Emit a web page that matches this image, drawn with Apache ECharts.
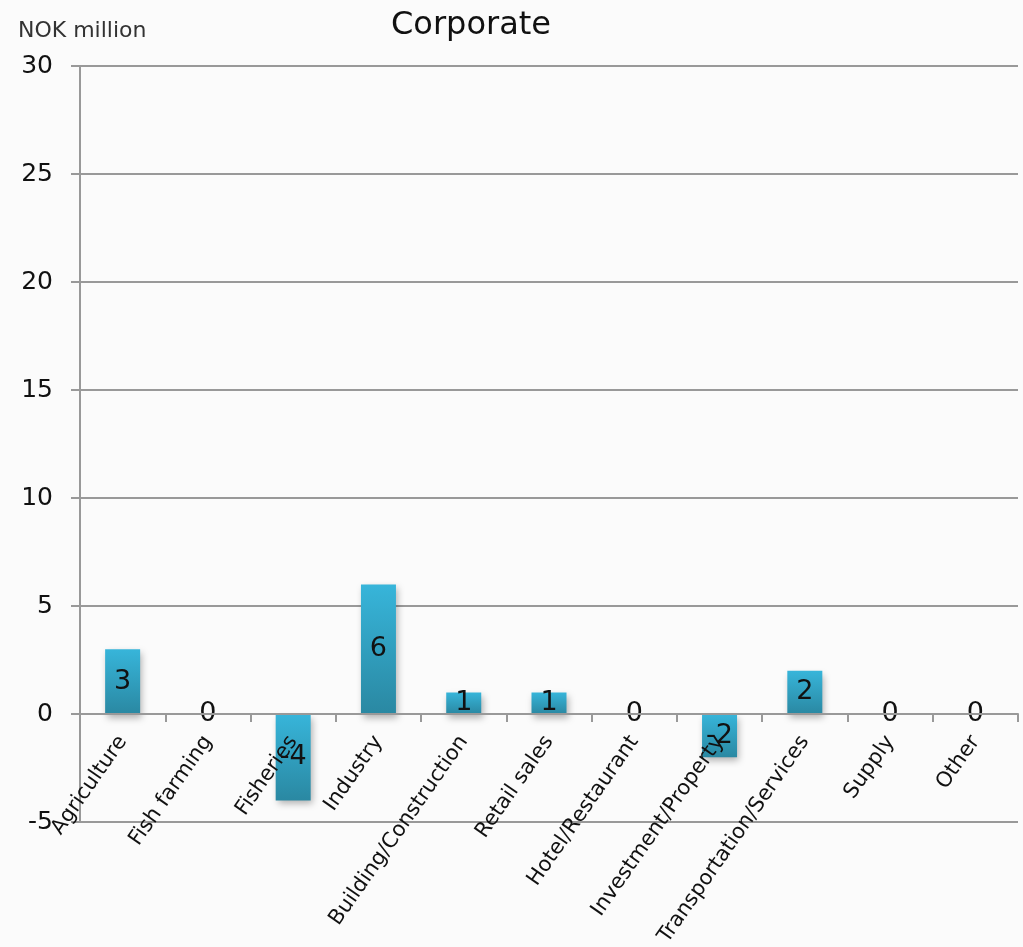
<!DOCTYPE html>
<html>
<head>
<meta charset="utf-8">
<script src="https://cdn.jsdelivr.net/npm/echarts@6/dist/echarts.min.js"></script>
<style>
  html, body { margin: 0; padding: 0; background: #fbfbfb; }
  #chart { width: 1023px; height: 947px; }
</style>
</head>
<body>
<div id="chart"></div>
<script>
// Sector breakdown, NOK million
const categories = ['Agriculture', 'Fish farming', 'Fisheries', 'Industry', 'Building/Construction',
  'Retail sales', 'Hotel/Restaurant', 'Investment/Property', 'Transportation/Services', 'Supply', 'Other'];
const values = [3, 0, -4, 6, 1, 1, 0, -2, 2, 0, 0];
const yTicks = { min: -5, max: 30, step: 5 };

const FONT = '"DejaVu Sans", Verdana, sans-serif';
const W = 1023, H = 947;
const grid = { left: 80, right: 5, top: 66, bottom: 125 };
const plotH = H - grid.top - grid.bottom;
// Lift the category axis (line, ticks and labels) up to the value-axis zero.
const zeroLift = (0 - yTicks.min) / (yTicks.max - yTicks.min) * plotH;

const chart = echarts.init(document.getElementById('chart'), null, { renderer: 'canvas', width: W, height: H });

const barFill = new echarts.graphic.LinearGradient(0, 0, 0, 1, [
  { offset: 0, color: '#37b5da' },
  { offset: 1, color: '#2a88a2' }
]);

chart.setOption({
  backgroundColor: '#fbfbfb',
  animation: false,
  title: {
    text: 'Corporate',
    left: 466, top: 5, textAlign: 'center',
    textStyle: { fontFamily: FONT, fontSize: 32, fontWeight: 'normal', color: '#111' }
  },
  graphic: [{
    type: 'text', left: 18, top: 20,
    style: { text: 'NOK million', fontFamily: FONT, fontSize: 22, fill: '#333' }
  }],
  grid: Object.assign({ containLabel: false, outerBoundsMode: 'none' }, grid),
  xAxis: {
    type: 'category',
    data: categories,
    offset: -zeroLift,
    z: 5,
    axisLine: { onZero: false, lineStyle: { color: '#999', width: 2 } },
    axisTick: { show: true, alignWithLabel: false, length: 8, lineStyle: { color: '#999', width: 2 } },
    axisLabel: {
      interval: 0, rotate: 55, margin: 24,
      fontFamily: FONT, fontSize: 21, color: '#111'
    },
    splitLine: { show: false }
  },
  yAxis: {
    type: 'value',
    min: yTicks.min, max: yTicks.max, interval: yTicks.step,
    axisLine: { show: true, lineStyle: { color: '#999', width: 2 } },
    axisTick: { show: true, length: 9, lineStyle: { color: '#999', width: 2 } },
    axisLabel: { fontFamily: FONT, fontSize: 25, color: '#111', margin: 27 },
    splitLine: { show: true, lineStyle: { color: '#999', width: 2 } }
  },
  series: [{
    type: 'bar',
    data: values,
    barWidth: 35,
    z: 2,
    itemStyle: {
      color: barFill,
      shadowColor: 'rgba(0,0,0,0.3)',
      shadowBlur: 7,
      shadowOffsetX: 2,
      shadowOffsetY: 4
    },
    label: {
      show: true, position: 'inside',
      fontFamily: FONT, fontSize: 27, color: '#111'
    }
  }]
});
</script>
</body>
</html>
